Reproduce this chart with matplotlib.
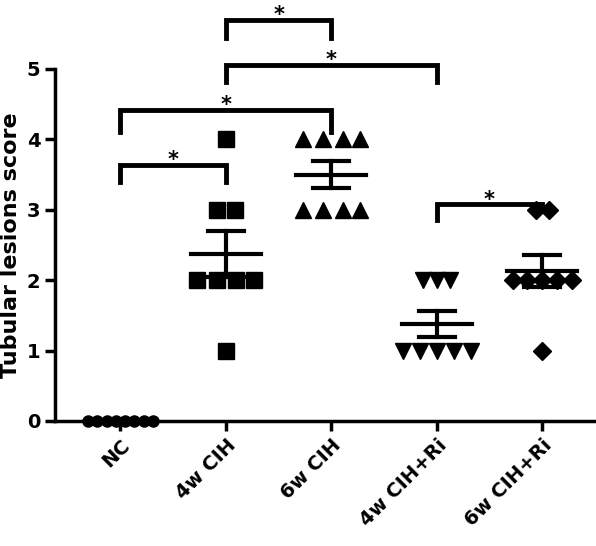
import numpy as np
import matplotlib
matplotlib.use("Agg")
import matplotlib.pyplot as plt

categories = ["NC", "4w CIH", "6w CIH", "4w CIH+Ri", "6w CIH+Ri"]
values = [
    [0, 0, 0, 0, 0, 0, 0, 0],
    [4, 3, 3, 2, 2, 2, 2, 1],
    [4, 4, 4, 4, 3, 3, 3, 3],
    [2, 2, 2, 1, 1, 1, 1, 1],
    [3, 3, 2, 2, 2, 2, 2, 1],
]
offsets = [
    [-0.31, -0.22, -0.13, -0.04, 0.04, 0.13, 0.22, 0.31],
    [0.0, -0.08, 0.09, -0.27, -0.08, 0.1, 0.27, 0.0],
    [-0.27, -0.08, 0.11, 0.27, -0.27, -0.08, 0.11, 0.27],
    [-0.13, 0.0, 0.13, -0.32, -0.16, 0.0, 0.16, 0.32],
    [-0.06, 0.06, -0.28, -0.14, 0.0, 0.14, 0.28, 0.0],
]
markers = ["o", "s", "^", "v", "D"]
msizes = [8, 11, 11, 11, 9]
# brackets: (x1, x2, top, left leg bottom, right leg bottom)
brackets = [(0, 1, 3.64, 3.4, 3.4), (0, 2, 4.42, 4.1, 4.1), (1, 3, 5.06, 4.82, 4.82),
            (1, 2, 5.7, 5.44, 5.44), (3, 4, 3.08, 2.85, 3.08)]

fig = plt.figure(figsize=(5.96, 5.46), dpi=100)
ax = fig.add_axes([55/596, 1-421/546, 1-55/596, (421-69)/546])
for i, (v, off) in enumerate(zip(values, offsets)):
    x = np.array(off) + i
    ax.plot(x, v, linestyle="none", marker=markers[i], ms=msizes[i], color="black", clip_on=False, zorder=3)
    m = np.mean(v); sem = np.std(v, ddof=1)/np.sqrt(len(v))
    ax.plot([i-0.33, i+0.33], [m, m], color="black", lw=3)
    ax.plot([i, i], [m-sem, m+sem], color="black", lw=3)
    for y in (m-sem, m+sem):
        ax.plot([i-0.17, i+0.17], [y, y], color="black", lw=3)
for x1, x2, top, lb, rb in brackets:
    ax.plot([x1, x1, x2, x2], [lb, top, top, rb], color="black", lw=3.5, clip_on=False, solid_joinstyle="miter")
    ax.text((x1+x2)/2, top-0.08, "*", ha="center", va="bottom", fontsize=15, fontweight="bold")

ax.set_xlim(-0.62, 4.51)
ax.set_ylim(0, 5)
ax.set_yticks([0, 1, 2, 3, 4, 5])
ax.set_xticks(range(5))
ax.set_xticklabels(categories, rotation=45, ha="right", rotation_mode="anchor", fontsize=14, fontweight="bold")
for t in ax.get_yticklabels():
    t.set_fontsize(14); t.set_fontweight("bold")
ax.set_ylabel("Tubular lesions score", fontsize=16, fontweight="bold")
for s in ("top", "right"):
    ax.spines[s].set_visible(False)
for s in ("left", "bottom"):
    ax.spines[s].set_linewidth(2.5)
ax.tick_params(width=2.5, length=7)
fig.savefig("out.png", dpi=100)
